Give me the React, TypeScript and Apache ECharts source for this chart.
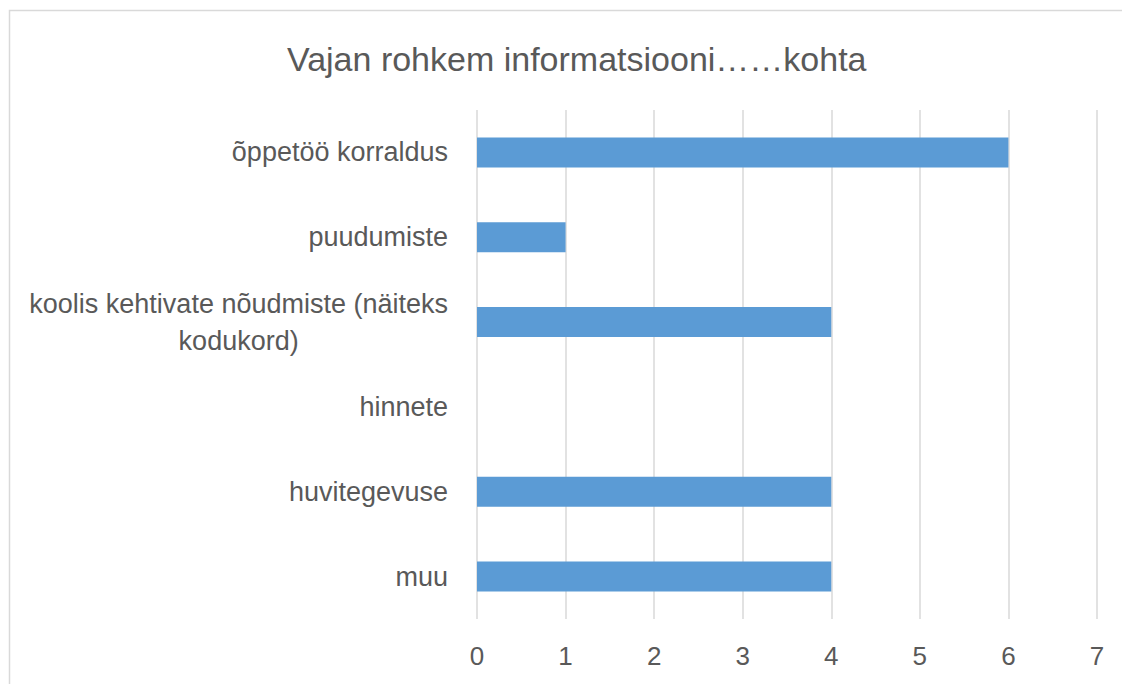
import React, { useEffect, useRef } from "react";
import * as echarts from "echarts";

const TITLE = "Vajan rohkem informatsiooni……kohta";
const categories = [
  "õppetöö korraldus",
  "puudumiste",
  "koolis kehtivate nõudmiste (näiteks kodukord)",
  "hinnete",
  "huvitegevuse",
  "muu",
];
const values = [6, 1, 4, 0, 4, 4];
const xMin = 0;
const xMax = 7;
const xInterval = 1;

const FONT = "'Liberation Sans', Arial, sans-serif";
const TEXT = "#595959";

function wrapLabel(s: string): string {
  if (s.length <= 30) return s;
  const cut = s.lastIndexOf(" ", 36);
  const a = s.slice(0, cut);
  const b = s.slice(cut + 1);
  return "{c|" + a + "}\n{c|" + b + "}";
}

export default function App() {
  const ref = useRef<HTMLDivElement>(null);
  useEffect(() => {
    if (!ref.current) return;
    const chart = echarts.init(ref.current, undefined, { renderer: "svg" });
    chart.setOption({
      animation: false,
      backgroundColor: "#ffffff",
      title: {
        text: TITLE,
        left: 282,
        top: 37,
        textStyle: { fontFamily: FONT, fontSize: 34, fontWeight: "normal", color: TEXT },
      },
      graphic: [
        {
          type: "rect",
          shape: { x: 9.5, y: 10.5, width: 1300, height: 900 },
          style: { fill: "none", stroke: "#d9d9d9", lineWidth: 1.5 },
          silent: true,
        },
      ],
      grid: { left: 477, right: 25, top: 110, bottom: 65, containLabel: false },
      xAxis: {
        type: "value",
        min: xMin,
        max: xMax,
        interval: xInterval,
        axisLine: { show: false },
        axisTick: { show: false },
        splitLine: { show: true, lineStyle: { color: "#d9d9d9", width: 1.5 } },
        axisLabel: { fontFamily: FONT, fontSize: 26, color: TEXT, margin: 24 },
      },
      yAxis: {
        type: "category",
        data: categories,
        inverse: true,
        axisLine: { show: false },
        axisTick: { show: false },
        splitLine: { show: false },
        axisLabel: {
          fontFamily: FONT,
          fontSize: 27,
          color: TEXT,
          margin: 29,
          lineHeight: 37,
          formatter: (v: string) => wrapLabel(v),
          rich: {
            c: { align: "center", fontFamily: FONT, fontSize: 27, color: TEXT, lineHeight: 37 },
          },
        },
      },
      series: [
        {
          type: "bar",
          data: values,
          barWidth: 30,
          itemStyle: { color: "#5b9bd5" },
        },
      ],
    });
    return () => chart.dispose();
  }, []);
  return (
    <div
      ref={ref}
      style={{ position: "absolute", left: 0, top: 0, width: 1122, height: 684 }}
    />
  );
}
